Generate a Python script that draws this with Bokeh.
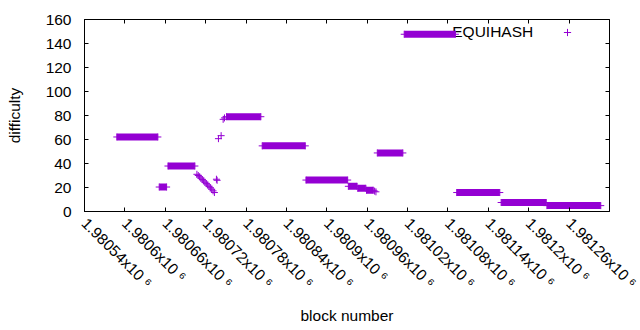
import math
from bokeh.plotting import figure
from bokeh.models import (Range1d, FixedTicker, LinearAxis, Label, Legend,
                          LegendItem, ColumnDataSource)
from bokeh.embed import file_html
from bokeh.resources import INLINE

# ---- data: flat difficulty runs (first block, last block, difficulty) ----
seg_start = [1980588, 1980651, 1980664, 1980751, 1980804, 1980869, 1980932,
             1980946, 1980959, 1980975, 1981015, 1981093, 1981159, 1981227]
seg_end = [1980649, 1980662, 1980704, 1980802, 1980868, 1980931, 1980945,
           1980958, 1980969, 1981013, 1981091, 1981157, 1981226, 1981307]
seg_diff = [62.1, 20.4, 37.9, 79.0, 54.7, 26.2, 21.0,
            19.3, 17.7, 48.8, 147.7, 15.8, 7.5, 4.9]

# ---- data: individual blocks outside flat runs ----
pt_block = [1980707, 1980709, 1980711, 1980713, 1980715, 1980717, 1980719,
            1980721, 1980723, 1980725, 1980727, 1980729, 1980731, 1980733,
            1980736, 1980737, 1980739, 1980743, 1980746, 1980748,
            1980971, 1980973]
pt_diff = [31.0, 30.0, 28.9, 27.8, 26.6, 25.5, 24.4,
           23.2, 22.1, 21.0, 19.8, 18.6, 17.2, 15.8,
           26.9, 26.0, 60.7, 63.2, 76.8, 78.0,
           17.0, 16.4]

x_ticks = [1980540, 1980600, 1980660, 1980720, 1980780, 1980840, 1980900,
           1980960, 1981020, 1981080, 1981140, 1981200, 1981260, 1981320]
x_tick_labels = ["1.98054x10 \u2076", "1.9806x10 \u2076", "1.98066x10 \u2076",
                 "1.98072x10 \u2076", "1.98078x10 \u2076", "1.98084x10 \u2076",
                 "1.9809x10 \u2076", "1.98096x10 \u2076", "1.98102x10 \u2076",
                 "1.98108x10 \u2076", "1.98114x10 \u2076", "1.9812x10 \u2076",
                 "1.98126x10 \u2076", "1.98132x10 \u2076"]
y_ticks = [0, 20, 40, 60, 80, 100, 120, 140, 160]
series_name = "EQUIHASH"

PURPLE = "#9400d3"
FONT = "Liberation Sans"
FS = "15.5px"
XLAB_STANDOFF = 9
W, H = 640, 330
BORDER_L, BORDER_R, BORDER_T, BORDER_B = 84, 31, 19, 119

p = figure(width=W, height=H, output_backend="svg", toolbar_location=None,
           x_range=Range1d(x_ticks[0], x_ticks[-1]), y_range=Range1d(0, 160),
           min_border_left=BORDER_L, min_border_right=BORDER_R,
           min_border_top=BORDER_T, min_border_bottom=BORDER_B,
           x_axis_label="block number", y_axis_label="difficulty")
p.grid.visible = False
p.outline_line_color = "black"
p.outline_line_width = 1
p.background_fill_color = "white"
p.border_fill_color = "white"

src = ColumnDataSource(dict(x0=seg_start, x1=seg_end, y=seg_diff))
p.segment(x0="x0", x1="x1", y0="y", y1="y", source=src,
          line_width=7, line_color=PURPLE, line_cap="butt")
p.scatter(x=seg_start + seg_end, y=seg_diff + seg_diff, marker="cross",
          size=7, line_color=PURPLE, line_width=1)
pts = p.scatter(x=pt_block, y=pt_diff, marker="cross", size=7,
                line_color=PURPLE, line_width=1)


def style_axis(ax):
    ax.major_tick_in = 4
    ax.major_tick_out = 0
    ax.minor_tick_in = 0
    ax.minor_tick_out = 0
    ax.major_tick_line_color = "black"
    ax.axis_line_color = "black"
    ax.major_label_text_font = FONT
    ax.major_label_text_font_size = FS
    ax.major_label_text_color = "black"
    ax.axis_label_text_font = FONT
    ax.axis_label_text_font_size = FS
    ax.axis_label_text_font_style = "normal"
    ax.axis_label_text_color = "black"


xa = p.xaxis[0]
style_axis(xa)
xa.ticker = FixedTicker(ticks=x_ticks[:-1])
xa.major_label_overrides = dict(zip(x_ticks[:-1], x_tick_labels[:-1]))
xa.major_label_orientation = -math.pi / 4
xa.major_label_standoff = XLAB_STANDOFF
xa.axis_label_standoff = 7

ya = p.yaxis[0]
style_axis(ya)
ya.ticker = FixedTicker(ticks=y_ticks)
ya.major_label_standoff = 13
ya.axis_label_standoff = 20


def mirror_axis(ticks):
    ax = LinearAxis(ticker=FixedTicker(ticks=ticks))
    style_axis(ax)
    ax.major_label_overrides = {t: "" for t in ticks}
    ax.major_label_text_color = None
    ax.major_label_text_font_size = "1px"
    ax.major_label_standoff = 0
    ax.axis_line_color = None
    return ax


p.add_layout(mirror_axis(x_ticks), "above")
p.add_layout(mirror_axis(y_ticks), "right")

# last tick label sits on the right border and runs off the canvas
p.add_layout(Label(x=W - BORDER_R, y=H - BORDER_B + XLAB_STANDOFF,
                   x_units="canvas", y_units="canvas",
                   text=x_tick_labels[-1], angle=-math.pi / 4,
                   text_align="left", text_baseline="top", text_font=FONT,
                   text_font_size=FS, text_color="black", level="overlay"))

p.add_layout(Label(x=448.7, y=180.0, x_units="screen", y_units="screen",
                   text=series_name, text_align="right", text_baseline="middle",
                   text_font=FONT, text_font_size=FS, text_color="black",
                   level="underlay"))

leg = Legend(items=[LegendItem(label=" ", renderers=[pts])],
             location=(473.5, 170), padding=0, margin=0, spacing=0,
             glyph_width=18, glyph_height=18, label_width=0, label_height=18,
             label_standoff=0, label_text_font_size="1px",
             border_line_color=None, background_fill_alpha=0)
p.add_layout(leg, "center")

open("out.html", "w").write(file_html(p, INLINE))
